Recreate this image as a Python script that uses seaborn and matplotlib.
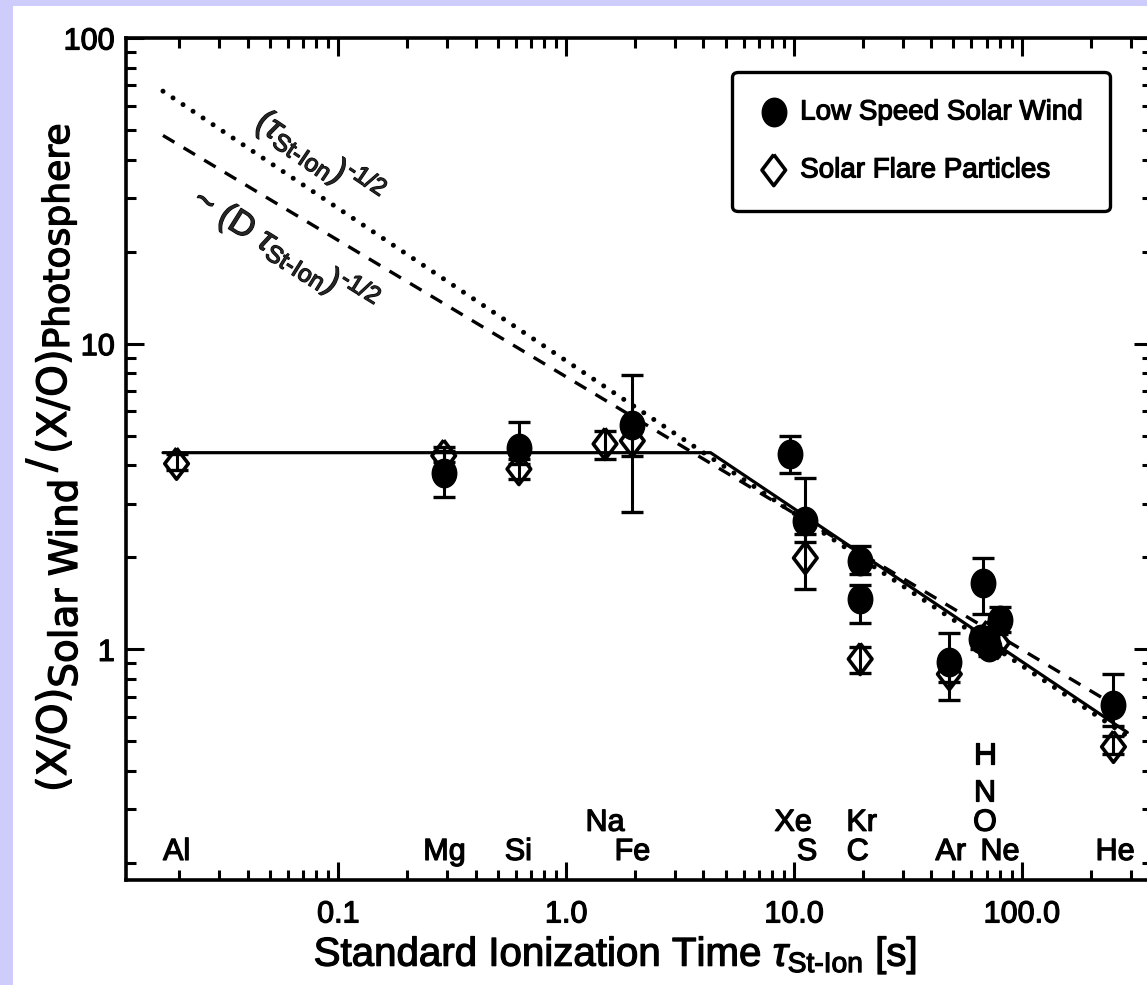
import matplotlib
matplotlib.use("Agg")
import matplotlib.pyplot as plt
import matplotlib.patheffects as pe
from matplotlib.patches import Rectangle
from matplotlib.markers import MarkerStyle
from matplotlib.transforms import Affine2D
from matplotlib.ticker import LogLocator, NullFormatter, FixedFormatter, FixedLocator
import seaborn as sns
import pandas as pd

# ---- data -------------------------------------------------------------
# Low speed solar wind abundance ratios (X/O)_SW / (X/O)_phot
wind_elem = ["Mg", "Si", "Fe", "Xe", "S", "Kr", "C", "Ar", "H", "N", "O", "Ne", "He"]
wind_tau = [0.29, 0.62, 1.95, 9.6, 11.2, 19.5, 19.5, 48.0, 67.5, 66.0, 72.0, 80.0, 252.0]
wind_ratio = [3.78, 4.57, 5.43, 4.36, 2.63, 1.95, 1.46, 0.91, 1.65, 1.08, 1.02, 1.25, 0.66]
wind_lo = [3.14, 4.05, 2.82, 3.78, 2.25, 1.76, 1.22, 0.78, 1.31, 1.00, 0.95, 1.14, 0.56]
wind_hi = [4.45, 5.56, 7.92, 4.99, 3.64, 2.18, 1.62, 1.13, 1.99, 1.16, 1.09, 1.38, 0.83]

# Solar flare particle abundance ratios
flare_elem = ["Al", "Mg", "Si", "Na", "Fe", "S", "C", "Ar", "N", "Ne", "He"]
flare_tau = [0.0195, 0.29, 0.62, 1.48, 1.95, 11.2, 19.5, 48.0, 70.0, 78.0, 252.0]
flare_ratio = [4.05, 4.30, 3.89, 4.70, 4.81, 1.99, 0.93, 0.83, 1.10, 1.05, 0.48]
flare_lo = [3.85, 4.10, 3.62, 4.20, 4.30, 1.57, 0.84, 0.685, 1.02, 0.98, 0.455]
flare_hi = [4.35, 4.60, 4.20, 5.19, 5.40, 2.38, 1.02, 0.95, 1.18, 1.12, 0.52]

# Model curves
solid_tau = [0.017, 4.3, 290.0]
solid_ratio = [4.4, 4.4, 0.535]
dotted_tau = [0.017, 290.0]
dotted_ratio = [67.0, 0.52]
dashed_tau = [0.017, 290.0]
dashed_ratio = [48.0, 0.62]

# Element labels along the bottom of the panel
label_names = ["Al", "Mg", "Si", "Na", "Fe", "Xe", "S", "Kr", "C", "Ar", "H", "N", "O", "Ne", "He"]
label_tau = [0.0195, 0.292, 0.616, 1.48, 1.95, 9.9, 11.4, 19.8, 19.0, 48.7, 68.8, 68.8, 68.8, 80.0, 256.0]
label_row = [0, 0, 0, 1, 0, 1, 0, 1, 0, 0, 3, 2, 1, 0, 0]
row_baseline = [0.2047, 0.255, 0.318, 0.423]

x_ticks = [0.1, 1.0, 10.0, 100.0]
x_ticklabels = ["0.1", "1.0", "10.0", "100.0"]
y_ticks = [1, 10, 100]
y_ticklabels = ["1", "10", "100"]

# ---- style ------------------------------------------------------------
sns.set_theme(style="ticks")
base = "Liberation Sans"
plt.rcParams["font.family"] = [base, "DejaVu Sans"]
plt.rcParams["mathtext.fontset"] = "custom"
plt.rcParams["mathtext.rm"] = base
plt.rcParams["mathtext.it"] = base + ":italic"
plt.rcParams["mathtext.bf"] = base + ":bold"
heavy = [pe.withStroke(linewidth=0.9, foreground="black")]

W, H = 1147, 985
fig = plt.figure(figsize=(W / 100, H / 100), dpi=100, facecolor="#cdccfa")
fig.patches.append(Rectangle((13 / W, 0), 1, 1 - 6 / H, transform=fig.transFigure,
                             facecolor="white", edgecolor="none", zorder=-10))
ax = fig.add_axes([126 / W, 1 - 880 / H, 1026 / W, 842 / H])
ax.set_facecolor("white")
ax.set_xscale("log")
ax.set_yscale("log")
ax.set_xlim(0.0117, 372)
ax.set_ylim(0.176, 100)

# ---- model lines --------------------------------------------------------
sns.lineplot(x=dotted_tau, y=dotted_ratio, ax=ax, color="black", lw=3.6, sort=False,
             estimator=None, linestyle=(0, (0.01, 2.4)), dash_capstyle="round", zorder=2)
sns.lineplot(x=dashed_tau, y=dashed_ratio, ax=ax, color="black", lw=2.4, sort=False,
             estimator=None, linestyle=(0, (4.0, 3.2)), zorder=2)
sns.lineplot(x=solid_tau, y=solid_ratio, ax=ax, color="black", lw=2.3, sort=False,
             estimator=None, zorder=3)

# ---- error bars -------------------------------------------------------
ebar = dict(fmt="none", ecolor="black", elinewidth=2.2, capsize=8, capthick=2.4, zorder=4)
ax.errorbar(wind_tau, wind_ratio,
            yerr=[[r - l for r, l in zip(wind_ratio, wind_lo)],
                  [h - r for r, h in zip(wind_ratio, wind_hi)]], **ebar)
ax.errorbar(flare_tau, flare_ratio,
            yerr=[[r - l for r, l in zip(flare_ratio, flare_lo)],
                  [h - r for r, h in zip(flare_ratio, flare_hi)]], **ebar)

# ---- markers ----------------------------------------------------------
circle = MarkerStyle("o", transform=Affine2D().scale(0.86, 1.0))
diamond = [(0, 1), (0.76, 0), (0, -1), (-0.76, 0), (0, 1)]

wind_df = pd.DataFrame({"tau": wind_tau, "ratio": wind_ratio})
flare_df = pd.DataFrame({"tau": flare_tau, "ratio": flare_ratio})

sns.scatterplot(data=wind_df, x="tau", y="ratio", ax=ax, marker=circle, s=420,
                color="black", edgecolor="black", linewidth=1,
                label="Low Speed Solar Wind", zorder=6)
sns.scatterplot(data=flare_df, x="tau", y="ratio", ax=ax, marker=diamond, s=500,
                color="black", edgecolor="black", linewidth=2.6,
                label="Solar Flare Particles", zorder=5)
ax.collections[-1].set_facecolor("none")
ax.collections[-1].set_edgecolor("black")

# ---- text annotations -------------------------------------------------
for name, t, row in zip(label_names, label_tau, label_row):
    ax.text(t, row_baseline[row], name, ha="center", va="baseline", fontsize=22,
            color="black", path_effects=heavy)

ax.text(0.0834, 40.7, r"$(\tau_{\text{St-Ion}})^{\text{-1/2}}$", rotation=-34,
        rotation_mode="anchor", ha="center", va="center", fontsize=25, path_effects=heavy)
ax.text(0.059, 20.2, r"~ $(\mathrm{D}\ \tau_{\text{St-Ion}})^{\text{-1/2}}$", rotation=-32,
        rotation_mode="anchor", ha="center", va="center", fontsize=25, path_effects=heavy)

# ---- axes -------------------------------------------------------------
ax.xaxis.set_major_locator(FixedLocator(x_ticks))
ax.xaxis.set_major_formatter(FixedFormatter(x_ticklabels))
ax.xaxis.set_minor_locator(LogLocator(base=10, subs=range(2, 10), numticks=20))
ax.xaxis.set_minor_formatter(NullFormatter())
ax.yaxis.set_major_locator(FixedLocator(y_ticks))
ax.yaxis.set_major_formatter(FixedFormatter(y_ticklabels))
ax.yaxis.set_minor_locator(LogLocator(base=10, subs=range(2, 10), numticks=20))
ax.yaxis.set_minor_formatter(NullFormatter())

ax.tick_params(which="both", direction="in", top=True, right=True, colors="black",
               width=2.2, labelsize=22)
ax.tick_params(which="major", length=13)
ax.tick_params(axis="x", which="major", pad=14)
ax.tick_params(axis="y", which="major", pad=8)
ax.tick_params(which="minor", length=7)
for lab in ax.get_xticklabels() + ax.get_yticklabels():
    lab.set_path_effects(heavy)
for sp in ax.spines.values():
    sp.set_linewidth(2.6)
    sp.set_color("black")
    sp.set_visible(True)

ax.set_xlabel(r"Standard Ionization Time $\tau_{\text{St-Ion}}$ [s]", fontsize=29,
              color="black", path_effects=heavy)
ax.xaxis.set_label_coords((615 - 126) / 1026, -0.064)
ax.set_ylabel("")

leg = ax.legend(loc="upper right", bbox_to_anchor=(0.959, 0.96), borderaxespad=0,
                frameon=True, fancybox=True, framealpha=1, edgecolor="black",
                fontsize=20, handlelength=1.0, handletextpad=0.45, labelspacing=1.15,
                borderpad=1.0, markerscale=1.0)
leg.get_frame().set_linewidth(2.4)
for t in leg.get_texts():
    t.set_color("black")
    t.set_path_effects(heavy)

# y-axis label assembled from its pieces, reading bottom to top
# (text, size, baseline x in px, gap after in px)
ylabel_parts = [
    ("(X/O)", 29, 66, 0),
    ("Solar Wind", 28, 77, 7),
    ("/", 28, 54, 5),
    ("(X/O)", 29, 66, 0),
    ("Photosphere", 26, 69, 0),
]
fig.canvas.draw()
renderer = fig.canvas.get_renderer()
y_cursor = 792
for txt, size, xb, gap in ylabel_parts:
    t = fig.text(xb / W, 1 - y_cursor / H, txt, rotation=90, rotation_mode="anchor",
                 ha="left", va="baseline", fontsize=size, color="black",
                 family=["DejaVu Sans"], path_effects=heavy)
    y_cursor -= t.get_window_extent(renderer).height + gap

fig.savefig("out.png", dpi=100, facecolor=fig.get_facecolor())
